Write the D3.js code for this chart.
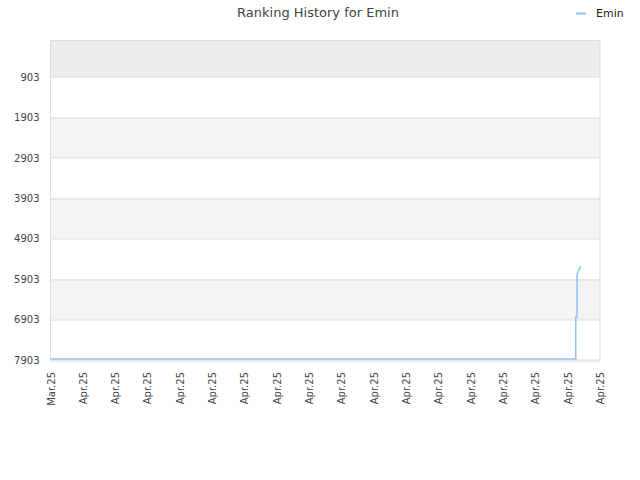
<!DOCTYPE html>
<html>
<head>
<meta charset="utf-8">
<script src="https://cdn.jsdelivr.net/npm/d3@7/dist/d3.min.js"></script>
<style>
  body { margin: 0; background: #fff; }
  text { font-family: "DejaVu Sans", Verdana, sans-serif; }
</style>
</head>
<body>
<div id="chart"></div>
<script>
// tick labels along the bottom, one per tick step
var xTickLabels = ['Mar.25', 'Apr.25', 'Apr.25', 'Apr.25', 'Apr.25', 'Apr.25', 'Apr.25', 'Apr.25', 'Apr.25',
  'Apr.25', 'Apr.25', 'Apr.25', 'Apr.25', 'Apr.25', 'Apr.25', 'Apr.25', 'Apr.25', 'Apr.25'];
var yTicks = [903, 1903, 2903, 3903, 4903, 5903, 6903, 7903];

// series for Emin: position in tick steps, rank
var seriesX = [0, 4, 8, 12, 16, 16.25, 16.25, 16.29, 16.29, 16.33, 16.36, 16.4];
var seriesRank = [7903, 7903, 7903, 7903, 7903, 7903, 6864, 6864, 5800, 5740, 5680, 5610];
var seriesName = 'Emin';

var width = 640, height = 480;
var margin = {top: 40.5, right: 40, bottom: 120, left: 50.5};
var innerW = width - margin.left - margin.right,
    innerH = height - margin.top - margin.bottom;

var svg = d3.select('#chart').append('svg')
  .attr('width', width)
  .attr('height', height);

var x = d3.scaleLinear().domain([0, xTickLabels.length - 1]).range([0, innerW]);
var y = d3.scaleLinear().domain([1, 7903]).range([0, innerH]);

var g = svg.append('g').attr('transform', 'translate(' + margin.left + ',' + margin.top + ')');

// alternating bands between the grid lines
var bandEdges = [1].concat(yTicks);
for (var i = 0; i < bandEdges.length - 1; i++) {
  if (i % 2 === 0) {
    g.append('rect')
      .attr('x', 0)
      .attr('width', innerW)
      .attr('y', y(bandEdges[i]))
      .attr('height', y(bandEdges[i + 1]) - y(bandEdges[i]))
      .attr('fill', i === 0 ? '#ededed' : '#f3f3f3');
  }
}

// horizontal grid lines
g.selectAll('.grid')
  .data(yTicks)
  .enter().append('line')
  .attr('class', 'grid')
  .attr('x1', 0).attr('x2', innerW)
  .attr('y1', function(d){ return Math.round(y(d)) + 0.5; })
  .attr('y2', function(d){ return Math.round(y(d)) + 0.5; })
  .attr('stroke', '#dddddd')
  .attr('stroke-width', 1);

// frame
g.append('rect')
  .attr('x', 0).attr('y', 0)
  .attr('width', innerW).attr('height', innerH)
  .attr('fill', 'none')
  .attr('stroke', '#dddddd')
  .attr('stroke-width', 1);

// y axis labels
var yAxis = d3.axisLeft(y).tickValues(yTicks).tickFormat(d3.format('d')).tickSize(0).tickPadding(11);
var yg = g.append('g').call(yAxis);
yg.select('.domain').remove();
yg.selectAll('text')
  .attr('fill', '#444')
  .style('font-size', '10px');

// x axis labels, rotated
var xAxis = d3.axisBottom(x)
  .tickValues(d3.range(xTickLabels.length))
  .tickFormat(function(d){ return xTickLabels[d]; })
  .tickSize(0);
var xg = g.append('g').attr('transform', 'translate(0,' + innerH + ')').call(xAxis);
xg.select('.domain').remove();
xg.selectAll('text')
  .attr('fill', '#444')
  .style('font-size', '10px')
  .attr('text-anchor', 'end')
  .attr('dy', '0.35em')
  .attr('transform', 'translate(0,12) rotate(-90)')
  .attr('x', 0)
  .attr('y', 0);

// the ranking line
var line = d3.line()
  .x(function(d){ return x(d[0]); })
  .y(function(d){ return y(d[1]); });
g.append('path')
  .datum(d3.zip(seriesX, seriesRank))
  .attr('d', line)
  .attr('fill', 'none')
  .attr('stroke', '#90c3f5')
  .attr('stroke-width', 1.5)
  .attr('transform', 'translate(0,-1)');

// title
svg.append('text')
  .attr('x', 318)
  .attr('y', 17)
  .attr('text-anchor', 'middle')
  .attr('fill', '#444')
  .style('font-size', '13px')
  .text('Ranking History for ' + seriesName);

// legend
svg.append('line')
  .attr('x1', 576).attr('x2', 586)
  .attr('y1', 13.5).attr('y2', 13.5)
  .attr('stroke', '#90c3f5')
  .attr('stroke-width', 2);
svg.append('text')
  .attr('x', 596)
  .attr('y', 17)
  .attr('fill', '#222')
  .style('font-size', '11px')
  .text(seriesName);
</script>
</body>
</html>
